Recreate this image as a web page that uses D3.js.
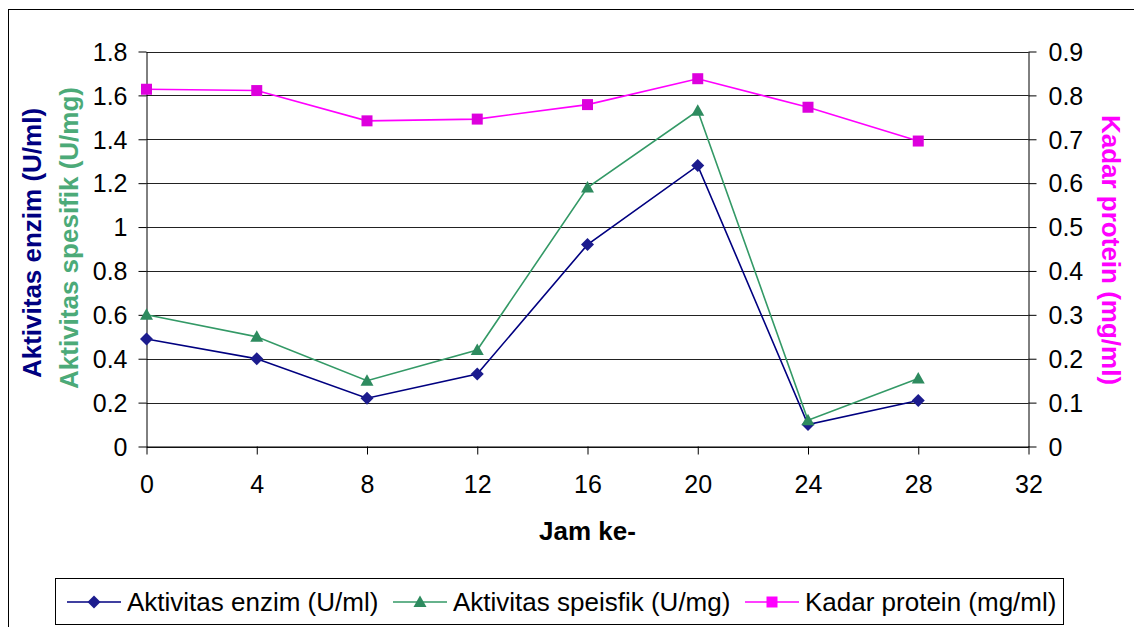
<!DOCTYPE html>
<meta charset="utf-8">
<script src="https://d3js.org/d3.v7.min.js"></script>
<style>
  body { margin: 0; background: #fff; }
  text { font-family: "Liberation Sans", Arial, sans-serif; }
</style>
<div id="chart"></div>
<script>

// data
var hours   = [0, 4, 8, 12, 16, 20, 24, 28];
var enzim   = [0.49, 0.40, 0.22, 0.33, 0.92, 1.28, 0.10, 0.21];
var spesifik = [0.60, 0.50, 0.30, 0.44, 1.18, 1.53, 0.12, 0.31];
var protein = [0.814, 0.811, 0.742, 0.746, 0.779, 0.838, 0.773, 0.696];

var xTicks = [0, 4, 8, 12, 16, 20, 24, 28, 32];
var leftTicks = [0, 0.2, 0.4, 0.6, 0.8, 1, 1.2, 1.4, 1.6, 1.8];
var rightTicks = [0, 0.1, 0.2, 0.3, 0.4, 0.5, 0.6, 0.7, 0.8, 0.9];

var legendNames = ["Aktivitas enzim (U/ml)", "Aktivitas speisfik (U/mg)", "Kadar protein (mg/ml)"];

var W = 1134, H = 627;
var svg = d3.select("#chart").append("svg")
    .attr("width", W)
    .attr("height", H);

// outer chart frame (runs off the right and bottom edge)
svg.append("rect")
    .attr("x", 8.5).attr("y", 9.5)
    .attr("width", 1200).attr("height", 700)
    .style("fill", "none")
    .style("stroke", "#000")
    .style("stroke-width", 1);

var x = d3.scaleLinear().domain([0, 32]).range([146.5, 1028.5]);
var yL = d3.scaleLinear().domain([0, 1.8]).range([446.5, 51.5]);
var yR = d3.scaleLinear().domain([0, 0.9]).range([446.5, 51.5]);

// gridlines
svg.append("g")
  .selectAll("line")
  .data(leftTicks)
  .enter()
  .append("line")
    .attr("x1", x(0)).attr("x2", x(32))
    .attr("y1", function(d){ return Math.round(yL(d)) + 0.5 })
    .attr("y2", function(d){ return Math.round(yL(d)) + 0.5 })
    .style("stroke", "#222")
    .style("stroke-width", 1);

var fmt = function(d){ return String(+d.toFixed(2)) };

// left axis
var gL = svg.append("g")
    .attr("transform", "translate(" + x(0) + ",0)")
    .call(d3.axisLeft(yL).tickValues(leftTicks).tickFormat(fmt).tickSize(8).tickPadding(11).tickSizeOuter(0));

// right axis
var gR = svg.append("g")
    .attr("transform", "translate(" + x(32) + ",0)")
    .call(d3.axisRight(yR).tickValues(rightTicks).tickFormat(fmt).tickSize(8).tickPadding(12).tickSizeOuter(0));

// bottom axis
var gB = svg.append("g")
    .attr("transform", "translate(0," + yL(0) + ")")
    .call(d3.axisBottom(x).tickValues(xTicks).tickFormat(fmt).tickSize(8).tickPadding(21).tickSizeOuter(0));

[gL, gR, gB].forEach(function(g){
  g.selectAll("text")
    .style("font-size", "25px")
    .style("font-family", "'Liberation Sans', Arial, sans-serif")
    .style("fill", "#000");
  g.selectAll("line, path").style("stroke", "#000");
});
gL.selectAll("text").attr("dy", "0.35em");
gR.selectAll("text").attr("dy", "0.35em");
gB.selectAll("text").attr("dy", "0.71em");

// axis titles
svg.append("text")
    .attr("x", x(16)).attr("y", 540)
    .attr("text-anchor", "middle")
    .style("font-size", "26px").style("font-weight", "bold")
    .text("Jam ke-");

svg.append("text")
    .attr("transform", "translate(41,243) rotate(-90)")
    .attr("text-anchor", "middle")
    .style("font-size", "26px").style("font-weight", "bold")
    .style("fill", "#000080")
    .text("Aktivitas enzim (U/ml)");

svg.append("text")
    .attr("transform", "translate(78,238) rotate(-90)")
    .attr("text-anchor", "middle")
    .style("font-size", "26px").style("font-weight", "bold")
    .style("fill", "#4caa78")
    .text("Aktivitas spesifik (U/mg)");

svg.append("text")
    .attr("transform", "translate(1102,250) rotate(90)")
    .attr("text-anchor", "middle")
    .style("font-size", "26px").style("font-weight", "bold")
    .style("fill", "#ff00ff")
    .text("Kadar protein (mg/ml)");

// marker shapes
var diamond = "M0,-6.5L6.5,0L0,6.5L-6.5,0Z";
var triangle = "M0,-6.5L6.5,5L-6.5,5Z";
var square = "M-5.5,-5.5H5.5V5.5H-5.5Z";

// series
var series = [
  {name: legendNames[0], values: enzim,   y: yL, line: "#000080", fill: "#1c1c8e", shape: diamond},
  {name: legendNames[1], values: spesifik, y: yL, line: "#339966", fill: "#2e8b5f", shape: triangle},
  {name: legendNames[2], values: protein, y: yR, line: "#ff00ff", fill: "#dd00dd", shape: square}
];

series.forEach(function(s){
  var pts = hours.map(function(h, i){ return [h, s.values[i]] });
  svg.append("path")
    .datum(pts)
    .attr("d", d3.line()
      .x(function(d){ return x(d[0]) })
      .y(function(d){ return s.y(d[1]) }))
    .style("fill", "none")
    .style("stroke", s.line)
    .style("stroke-width", 1.6);

  svg.append("g")
    .selectAll("path")
    .data(pts)
    .enter()
    .append("path")
      .attr("d", s.shape)
      .attr("transform", function(d){ return "translate(" + x(d[0]) + "," + s.y(d[1]) + ")" })
      .style("fill", s.fill)
      .style("stroke", "none");
});

// legend
svg.append("rect")
    .attr("x", 55.5).attr("y", 578.5)
    .attr("width", 1008).attr("height", 46)
    .style("fill", "#fff")
    .style("stroke", "#000")
    .style("stroke-width", 1);

var legendX = [67, 393, 745];
series.forEach(function(s, i){
  var lx = legendX[i], ly = 602;
  svg.append("line")
    .attr("x1", lx).attr("x2", lx + 54)
    .attr("y1", ly).attr("y2", ly)
    .style("stroke", s.line)
    .style("stroke-width", 1.6);
  svg.append("path")
    .attr("d", s.shape)
    .attr("transform", "translate(" + (lx + 27) + "," + ly + ")")
    .style("fill", i === 2 ? "#ff00ff" : s.fill);
  svg.append("text")
    .attr("x", lx + 60).attr("y", ly)
    .attr("dy", "0.36em")
    .style("font-size", "26px")
    .text(s.name);
});

</script>
